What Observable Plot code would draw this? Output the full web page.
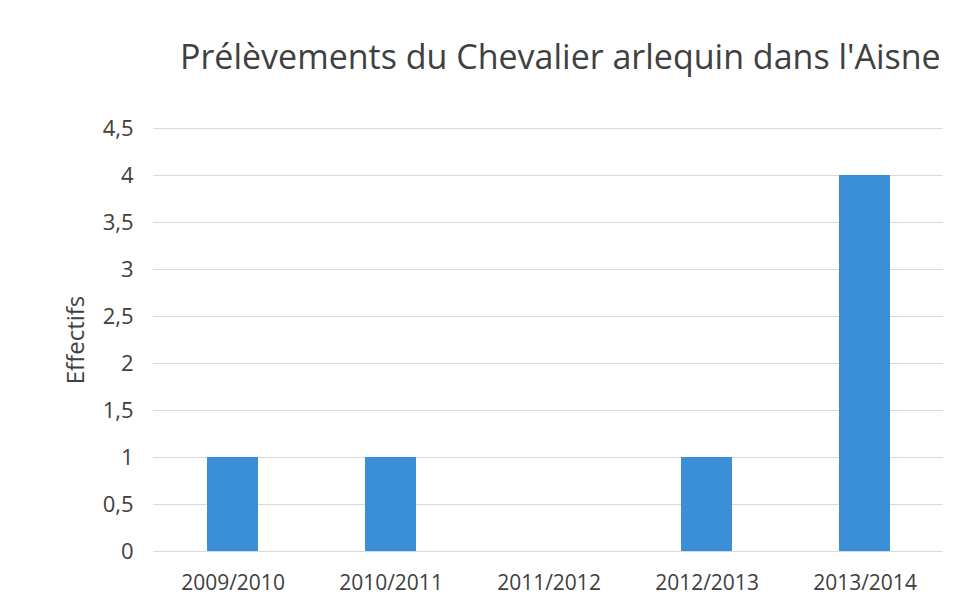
<!DOCTYPE html>
<html>
<head>
<meta charset="utf-8">
<script src="https://cdn.jsdelivr.net/npm/d3@7"></script>
<script src="https://cdn.jsdelivr.net/npm/@observablehq/plot@0.6"></script>
<style>
  html, body { margin: 0; padding: 0; background: #fff; }
  #wrap { width: 954px; height: 609px; position: relative; font-family: "Open Sans", sans-serif; }
  #title { height: 100px; box-sizing: border-box; padding-top: 39px; padding-left: 180px; font-size: 34px; color: #404040; line-height: 1; white-space: nowrap; }
  svg { display: block; }
</style>
</head>
<body>
<div id="wrap">
  <div id="title">Prélèvements du Chevalier arlequin dans l'Aisne</div>
  <div id="chart"></div>
</div>
<script>
const seasons = ["2009/2010", "2010/2011", "2011/2012", "2012/2013", "2013/2014"];
const counts = [1, 1, 0, 1, 4];
const yTicks = [0, 0.5, 1, 1.5, 2, 2.5, 3, 3.5, 4, 4.5];

const data = seasons.map((s, i) => ({season: s, count: counts[i]}));
const fmt = d => String(d).replace(".", ",");

const chart = Plot.plot({
  width: 954,
  height: 509,
  marginTop: 28,
  marginBottom: 58,
  marginLeft: 153,
  marginRight: 11,
  style: {fontFamily: "'Open Sans', sans-serif", color: "#404040", background: "#fff"},
  x: {domain: seasons, paddingInner: 0.68, paddingOuter: 0.34, label: null},
  y: {domain: [0, 4.5], label: null},
  marks: [
    Plot.gridY(yTicks, {stroke: "#d9d9d9", strokeOpacity: 1, strokeWidth: 1}),
    Plot.barY(data, {x: "season", y: "count", fill: "#3a8fd6"}),
    Plot.axisY(yTicks, {tickSize: 0, tickPadding: 20, tickFormat: fmt, fill: "#404040", fontSize: 22,
      label: null}),
    Plot.axisY({tickSize: 0, ticks: [], label: "Effectifs", labelAnchor: "center", labelArrow: "none",
      labelOffset: 87, fontSize: 24, fill: "#404040"}),
    Plot.axisX({tickSize: 0, tickPadding: 24, fill: "#404040", fontSize: 21})
  ]
});
document.getElementById("chart").appendChild(chart);
</script>
</body>
</html>
